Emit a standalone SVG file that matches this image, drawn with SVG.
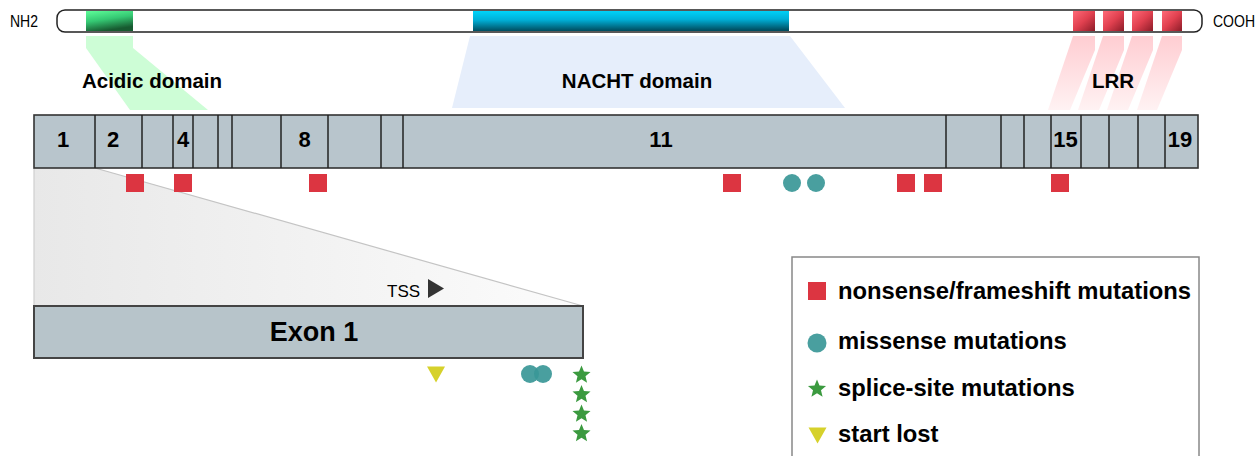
<svg xmlns="http://www.w3.org/2000/svg" width="1260" height="456" viewBox="0 0 1260 456">
  <defs>
    <style>
      .lbl { font-family: "Liberation Sans", Arial, sans-serif; fill: #000; }
      .b { font-weight: bold; }
      .term { font-size: 16px; }
      .dom { font-size: 20.5px; font-weight: bold; text-anchor: middle; }
      .exn { font-size: 22px; font-weight: bold; text-anchor: middle; }
      .leg { font-size: 23.8px; font-weight: bold; }
      .seg { fill: #b8c5cc; stroke: #333; stroke-width: 1.6; }
      .div { stroke: #222; stroke-width: 1.5; }
      .nons { fill: #dc3541; }
      .mis { fill: #3a9797; fill-opacity: 0.92; }
      .spl { fill: #3b9a3f; }
      .sl { fill: #d6d12b; }
    </style>
    <linearGradient id="gGreen" x1="0" y1="0" x2="0.35" y2="1">
      <stop offset="0" stop-color="#5efd99"/>
      <stop offset="0.5" stop-color="#35c873"/>
      <stop offset="1" stop-color="#175a30"/>
    </linearGradient>
    <linearGradient id="gCyan" x1="0" y1="0" x2="0.05" y2="1">
      <stop offset="0" stop-color="#00d4fa"/>
      <stop offset="0.45" stop-color="#00b0d8"/>
      <stop offset="1" stop-color="#004d60"/>
    </linearGradient>
    <linearGradient id="gRed" x1="0" y1="0" x2="1" y2="1">
      <stop offset="0" stop-color="#ff6a78"/>
      <stop offset="0.5" stop-color="#e0404f"/>
      <stop offset="1" stop-color="#8c1c28"/>
    </linearGradient>
    <linearGradient id="gLrr" x1="0" y1="0" x2="0" y2="1">
      <stop offset="0" stop-color="#ffcdd2"/>
      <stop offset="1" stop-color="#fff2f3"/>
    </linearGradient>
    <linearGradient id="gWedge" x1="0" y1="0" x2="1" y2="0">
      <stop offset="0" stop-color="#e8e8e8"/>
      <stop offset="1" stop-color="#fcfcfc"/>
    </linearGradient>
    <path id="star" d="M0,-9.5 L2.47,-3.4 L9.04,-2.94 L3.99,1.3 L5.58,7.69 L0,4.2 L-5.58,7.69 L-3.99,1.3 L-9.04,-2.94 L-2.47,-3.4 Z"/>
    <rect id="sq" x="-9" y="-9" width="18" height="18"/>
    <path id="tri" d="M-9,-8 L9,-8 L0,8 Z"/>
  </defs>

  <!-- projections from protein domains onto the exon map -->
  <g id="projections">
    <polygon points="86,36 133,36 133,48 208,110 130,110 86,48" fill="#cdfdd6"/>
    <polygon points="470,36 790,36 845,108 452,108" fill="#e6eefb"/>
    <polygon points="1073,36 1095,36 1095,50 1070,110 1048,110" fill="url(#gLrr)"/>
    <polygon points="1103,36 1124,36 1124,50 1099,110 1078,110" fill="url(#gLrr)"/>
    <polygon points="1132,36 1153,36 1153,50 1128,110 1107,110" fill="url(#gLrr)"/>
    <polygon points="1162,36 1182,36 1182,50 1157,110 1137,110" fill="url(#gLrr)"/>
  </g>

  <!-- protein bar -->
  <g id="protein">
    <rect x="86" y="11" width="47" height="20" fill="url(#gGreen)"/>
    <rect x="473" y="11" width="316" height="20" fill="url(#gCyan)"/>
    <rect x="1073" y="11" width="22" height="20" fill="url(#gRed)"/>
    <rect x="1103" y="11" width="21" height="20" fill="url(#gRed)"/>
    <rect x="1132" y="11" width="21" height="20" fill="url(#gRed)"/>
    <rect x="1162" y="11" width="20" height="20" fill="url(#gRed)"/>
    <rect x="57" y="10" width="1145" height="22" rx="8" fill="none" stroke="#222" stroke-width="1.5"/>
    <text class="lbl term" x="10" y="27" textLength="28" lengthAdjust="spacingAndGlyphs">NH2</text>
    <text class="lbl term" x="1213" y="27" textLength="42" lengthAdjust="spacingAndGlyphs">COOH</text>
  </g>

  <g id="domain-labels">
    <text class="lbl dom" x="152" y="88">Acidic domain</text>
    <text class="lbl dom" x="637" y="88">NACHT domain</text>
    <text class="lbl dom" x="1113" y="88">LRR</text>
  </g>

  <!-- zoom wedge from exon 1 down to the enlarged exon -->
  <g id="wedge">
    <polygon points="34,168 95,168 583,306 34,306" fill="url(#gWedge)"/>
    <line x1="95" y1="168" x2="583" y2="306" stroke="#c4c4c4" stroke-width="1.2"/>
    <line x1="34" y1="168" x2="34" y2="306" stroke="#cfcfcf" stroke-width="1.2"/>
  </g>

  <!-- exon map -->
  <g id="exons">
    <rect class="seg" x="34" y="115" width="1164" height="53"/>
    <g class="div">
      <line x1="95" y1="115" x2="95" y2="168"/>
      <line x1="142" y1="115" x2="142" y2="168"/>
      <line x1="173" y1="115" x2="173" y2="168"/>
      <line x1="193" y1="115" x2="193" y2="168"/>
      <line x1="218" y1="115" x2="218" y2="168"/>
      <line x1="232" y1="115" x2="232" y2="168"/>
      <line x1="281" y1="115" x2="281" y2="168"/>
      <line x1="328" y1="115" x2="328" y2="168"/>
      <line x1="381" y1="115" x2="381" y2="168"/>
      <line x1="403" y1="115" x2="403" y2="168"/>
      <line x1="946" y1="115" x2="946" y2="168"/>
      <line x1="1001" y1="115" x2="1001" y2="168"/>
      <line x1="1024" y1="115" x2="1024" y2="168"/>
      <line x1="1051" y1="115" x2="1051" y2="168"/>
      <line x1="1081" y1="115" x2="1081" y2="168"/>
      <line x1="1109" y1="115" x2="1109" y2="168"/>
      <line x1="1138" y1="115" x2="1138" y2="168"/>
      <line x1="1165" y1="115" x2="1165" y2="168"/>
    </g>
    <text class="lbl exn" x="63" y="147">1</text>
    <text class="lbl exn" x="113" y="147">2</text>
    <text class="lbl exn" x="183" y="147">4</text>
    <text class="lbl exn" x="304.5" y="147">8</text>
    <text class="lbl exn" x="661" y="147">11</text>
    <text class="lbl exn" x="1065.5" y="147">15</text>
    <text class="lbl exn" x="1180" y="147">19</text>
  </g>

  <!-- mutations along the exon map -->
  <g id="map-mutations">
    <use href="#sq" class="nons" x="135" y="183"/>
    <use href="#sq" class="nons" x="183" y="183"/>
    <use href="#sq" class="nons" x="318" y="183"/>
    <use href="#sq" class="nons" x="732" y="183"/>
    <use href="#sq" class="nons" x="906" y="183"/>
    <use href="#sq" class="nons" x="933" y="183"/>
    <use href="#sq" class="nons" x="1060" y="183"/>
    <circle class="mis" cx="792" cy="183" r="9"/>
    <circle class="mis" cx="816" cy="183" r="9"/>
  </g>

  <!-- enlarged exon 1 -->
  <g id="exon1">
    <rect x="34" y="306" width="549" height="52" fill="#b7c4ca" stroke="#444" stroke-width="2"/>
    <text class="lbl b" x="314" y="341" font-size="27" text-anchor="middle">Exon 1</text>
    <text class="lbl" x="387" y="297" font-size="17">TSS</text>
    <path d="M428,279 L444,288.5 L428,298 Z" fill="#333"/>
  </g>

  <g id="exon1-mutations">
    <use href="#tri" class="sl" x="436" y="374.5"/>
    <circle class="mis" cx="530" cy="374" r="9"/>
    <circle class="mis" cx="543" cy="374" r="9"/>
    <use href="#star" class="spl" x="581.5" y="375"/>
    <use href="#star" class="spl" x="581.5" y="394.5"/>
    <use href="#star" class="spl" x="581.5" y="414"/>
    <use href="#star" class="spl" x="581.5" y="433.5"/>
  </g>

  <!-- legend -->
  <g id="legend">
    <rect x="792" y="257" width="407" height="215" fill="#fff" stroke="#888" stroke-width="1.5"/>
    <use href="#sq" class="nons" x="817" y="291"/>
    <text class="lbl leg" x="838" y="299">nonsense/frameshift mutations</text>
    <circle class="mis" cx="817" cy="343" r="9.5"/>
    <text class="lbl leg" x="838" y="349">missense mutations</text>
    <use href="#star" class="spl" x="817" y="389"/>
    <text class="lbl leg" x="838" y="396">splice-site mutations</text>
    <use href="#tri" class="sl" x="817.5" y="435.5"/>
    <text class="lbl leg" x="838" y="442">start lost</text>
  </g>
</svg>
